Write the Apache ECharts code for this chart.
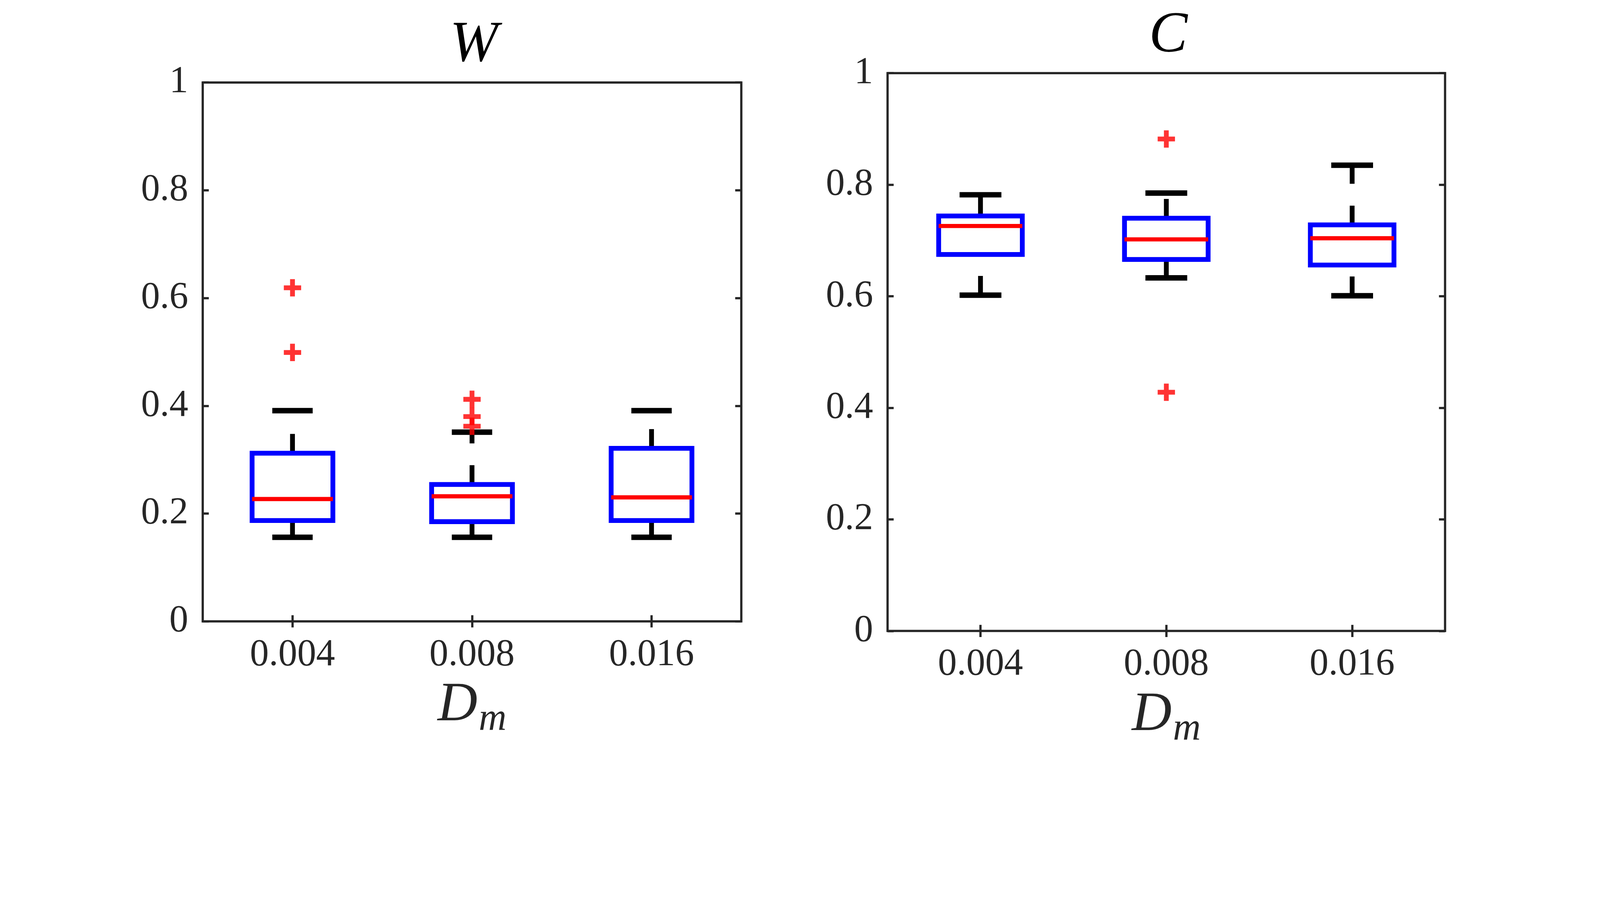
<!DOCTYPE html>
<html lang="en">

<head>
    <meta charset="UTF-8">
    <title>W / C boxplots</title>
    <script src="https://cdnjs.cloudflare.com/ajax/libs/echarts/6.0.0/echarts.min.js"></script>
    <style>
        html, body { margin: 0; padding: 0; background: #ffffff; overflow: hidden; }
        #main { width: 100vw; height: 100vh; }
    </style>
</head>

<body>
    <div id="main"></div>

    <script>
        // categories on the x axis (D_m)
        const categories = ['0.004', '0.008', '0.016'];
        const yTicks = [0, 0.2, 0.4, 0.6, 0.8, 1];

        // [lower whisker, q1, median, q3, upper whisker]
        const wStats = [
            [0.156, 0.187, 0.227, 0.312, 0.391],
            [0.156, 0.185, 0.232, 0.254, 0.351],
            [0.156, 0.187, 0.230, 0.321, 0.391]
        ];
        const wOutliers = [[0, 0.619], [0, 0.499], [1, 0.412], [1, 0.380], [1, 0.362]];

        const cStats = [
            [0.602, 0.675, 0.726, 0.744, 0.782],
            [0.633, 0.666, 0.702, 0.740, 0.785],
            [0.601, 0.656, 0.704, 0.728, 0.835]
        ];
        const cOutliers = [[1, 0.882], [1, 0.428]];

        const chart = echarts.init(document.getElementById('main'));

        // the layout was measured on a 4988 x 2354 picture; scale to whatever the window is
        const S = Math.min(window.innerWidth / 4988, window.innerHeight / 2354);
        const px = (v) => v * S;

        const axisColor = '#262626';
        const serif = 'Liberation Serif';
        const plus = 'path://M6.5,0H11.5V6.5H18V11.5H11.5V18H6.5V11.5H0V6.5H6.5Z';

        function renderBox(params, api) {
            const i = api.value(0);
            const cw = api.size([1, 0])[0];
            const bw = cw * 0.45;
            const capW = cw * 0.225;
            const lo = api.coord([i, api.value(1)]);
            const q1 = api.coord([i, api.value(2)]);
            const med = api.coord([i, api.value(3)]);
            const q3 = api.coord([i, api.value(4)]);
            const hi = api.coord([i, api.value(5)]);
            const x = lo[0];
            const whisker = { stroke: '#000000', lineWidth: px(15), lineDash: [px(60), px(68)] };
            const cap = { stroke: '#000000', lineWidth: px(17) };
            return {
                type: 'group',
                children: [
                    { type: 'line', shape: { x1: x, y1: q3[1], x2: x, y2: hi[1] }, style: whisker },
                    { type: 'line', shape: { x1: x, y1: lo[1], x2: x, y2: q1[1] }, style: whisker },
                    { type: 'line', shape: { x1: x - capW / 2, y1: hi[1], x2: x + capW / 2, y2: hi[1] }, style: cap },
                    { type: 'line', shape: { x1: x - capW / 2, y1: lo[1], x2: x + capW / 2, y2: lo[1] }, style: cap },
                    {
                        type: 'rect',
                        shape: { x: x - bw / 2, y: q3[1], width: bw, height: q1[1] - q3[1] },
                        style: { fill: 'none', stroke: '#0000ff', lineWidth: px(15) }
                    },
                    {
                        type: 'line',
                        shape: { x1: x - bw / 2, y1: med[1], x2: x + bw / 2, y2: med[1] },
                        style: { stroke: '#ff0000', lineWidth: px(13) }
                    }
                ]
            };
        }

        function xAxes(gridIndex) {
            const base = {
                type: 'category',
                gridIndex: gridIndex,
                data: categories,
                axisLine: { show: false },
                axisTick: { show: true, inside: true, alignWithLabel: true, length: px(19), lineStyle: { color: axisColor, width: px(7) } },
                splitLine: { show: false }
            };
            return [
                Object.assign({}, base, {
                    position: 'bottom',
                    axisLabel: { margin: px(46), fontFamily: serif, fontSize: px(118), color: axisColor },
                    name: '{d|D}{m|m}',
                    nameLocation: 'middle',
                    nameGap: px(160),
                    nameTextStyle: {
                        rich: {
                            d: { fontFamily: serif, fontStyle: 'italic', fontSize: px(172), color: axisColor },
                            m: { fontFamily: serif, fontStyle: 'italic', fontSize: px(120), color: axisColor, padding: [px(86), 0, 0, px(4)] }
                        }
                    }
                }),
                Object.assign({}, base, { position: 'top', axisLabel: { show: false } })
            ];
        }

        function yAxes(gridIndex) {
            const base = {
                type: 'value',
                gridIndex: gridIndex,
                min: yTicks[0],
                max: yTicks[yTicks.length - 1],
                interval: 0.2,
                axisLine: { show: false },
                axisTick: { show: true, inside: true, length: px(19), lineStyle: { color: axisColor, width: px(7) } },
                splitLine: { show: false }
            };
            return [
                Object.assign({}, base, {
                    position: 'left',
                    axisLabel: { margin: px(45), fontFamily: serif, fontSize: px(118), color: axisColor }
                }),
                Object.assign({}, base, { position: 'right', axisLabel: { show: false } })
            ];
        }

        const gridStyle = { show: true, borderColor: axisColor, borderWidth: px(7), backgroundColor: 'transparent', containLabel: false };
        const titleStyle = { fontFamily: serif, fontStyle: 'italic', fontWeight: 'normal', fontSize: px(180), color: '#000000' };

        const option = {
            animation: false,
            backgroundColor: '#ffffff',
            title: [
                { text: 'W', left: px(1471), top: px(46), textAlign: 'center', textStyle: titleStyle },
                { text: 'C', left: px(3636), top: px(17), textAlign: 'center', textStyle: titleStyle }
            ],
            grid: [
                Object.assign({ left: px(632), top: px(257), width: px(1679), height: px(1679) }, gridStyle),
                Object.assign({ left: px(2767), top: px(228), width: px(1738), height: px(1738) }, gridStyle)
            ],
            xAxis: xAxes(0).concat(xAxes(1)),
            yAxis: yAxes(0).concat(yAxes(1)),
            series: [
                {
                    type: 'custom', xAxisIndex: 0, yAxisIndex: 0,
                    renderItem: renderBox,
                    encode: { x: 0, y: [1, 2, 3, 4, 5] },
                    data: wStats.map((s, i) => [i].concat(s))
                },
                {
                    type: 'scatter', xAxisIndex: 0, yAxisIndex: 0,
                    symbol: plus, symbolSize: px(54),
                    itemStyle: { color: '#ff0000' },
                    data: wOutliers
                },
                {
                    type: 'custom', xAxisIndex: 2, yAxisIndex: 2,
                    renderItem: renderBox,
                    encode: { x: 0, y: [1, 2, 3, 4, 5] },
                    data: cStats.map((s, i) => [i].concat(s))
                },
                {
                    type: 'scatter', xAxisIndex: 2, yAxisIndex: 2,
                    symbol: plus, symbolSize: px(54),
                    itemStyle: { color: '#ff0000' },
                    data: cOutliers
                }
            ]
        };

        chart.setOption(option);
    </script>
</body>

</html>
